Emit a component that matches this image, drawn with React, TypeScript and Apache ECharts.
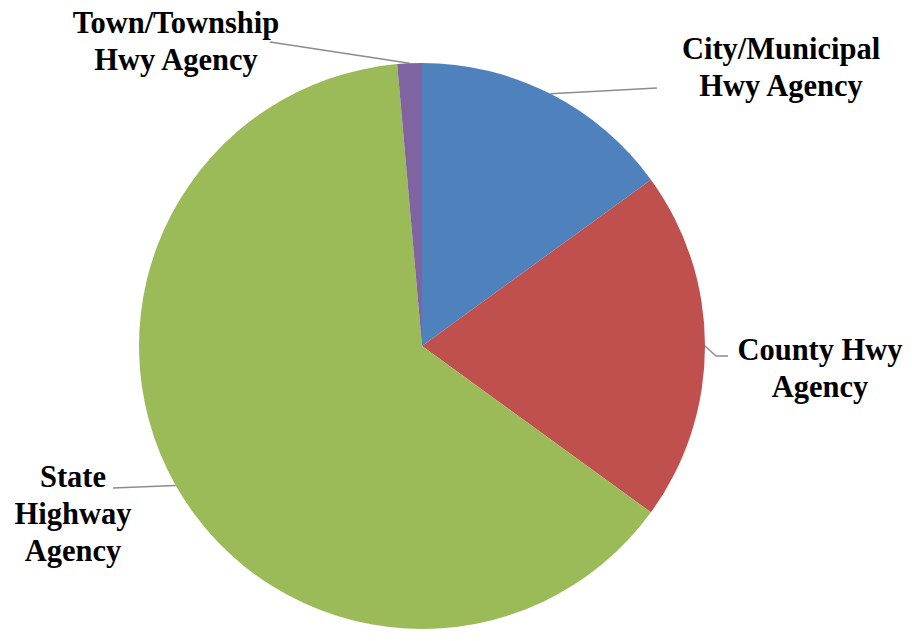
import React, { useEffect, useRef } from "react";
import * as echarts from "echarts";

const categories = [
  "City/Municipal\nHwy Agency",
  "County Hwy\nAgency",
  "State\nHighway\nAgency",
  "Town/Township\nHwy Agency",
];
const values = [15, 20, 63.6, 1.4];
const colors = ["#4F81BD", "#C0504D", "#9BBB59", "#8064A2"];

// label anchor layout (pixels) and leader line ends
const labelAnchors = [
  { x: 781, y: 67, lineEnd: [[657, 88]] },
  { x: 820, y: 368, lineEnd: [[716, 356], [728, 356]] },
  { x: 73, y: 514, lineEnd: [[113, 488]] },
  { x: 176, y: 41, lineEnd: [[270, 42]] },
];

const CENTER = [422, 346];
const RADIUS = 283;
const FONT = "Times New Roman, Liberation Serif, DejaVu Serif, serif";

export default function App() {
  const ref = useRef<HTMLDivElement>(null);
  useEffect(() => {
    if (!ref.current) return;
    const chart = echarts.init(ref.current, undefined, { renderer: "svg" });
    const total = values.reduce((a, b) => a + b, 0);
    const mids: number[] = [];
    let acc = 0;
    values.forEach((v) => {
      mids.push(((acc + v / 2) / total) * 2 * Math.PI);
      acc += v;
    });
    chart.setOption({
      animation: false,
      backgroundColor: "#ffffff",
      textStyle: { fontFamily: FONT },
      series: [
        {
          type: "pie",
          center: CENTER,
          radius: RADIUS,
          startAngle: 90,
          clockwise: true,
          data: categories.map((name, i) => ({
            name,
            value: values[i],
            itemStyle: { color: colors[i] },
          })),
          itemStyle: { borderWidth: 0 },
          emphasis: { disabled: true },
          label: {
            show: true,
            position: "outside",
            formatter: "{b}",
            fontFamily: FONT,
            fontWeight: "bold",
            fontSize: 30.5,
            lineHeight: 37,
            color: "#000000",
            align: "center",
          },
          labelLine: {
            show: true,
            length: 10,
            length2: 10,
            lineStyle: { color: "#8c8c8c", width: 1.5 },
          },
          labelLayout: (params: any) => {
            const i = params.dataIndex;
            const a = labelAnchors[i];
            const ang = mids[i];
            const edge = [
              CENTER[0] + RADIUS * Math.sin(ang),
              CENTER[1] - RADIUS * Math.cos(ang),
            ];
            return {
              x: a.x,
              y: a.y,
              align: "center",
              verticalAlign: "middle",
              labelLinePoints: [edge, ...a.lineEnd].slice(0, 3),
            };
          },
        },
      ],
    });
    return () => chart.dispose();
  }, []);
  return (
    <div
      ref={ref}
      style={{ position: "fixed", left: 0, top: 0, width: 912, height: 641 }}
    />
  );
}
